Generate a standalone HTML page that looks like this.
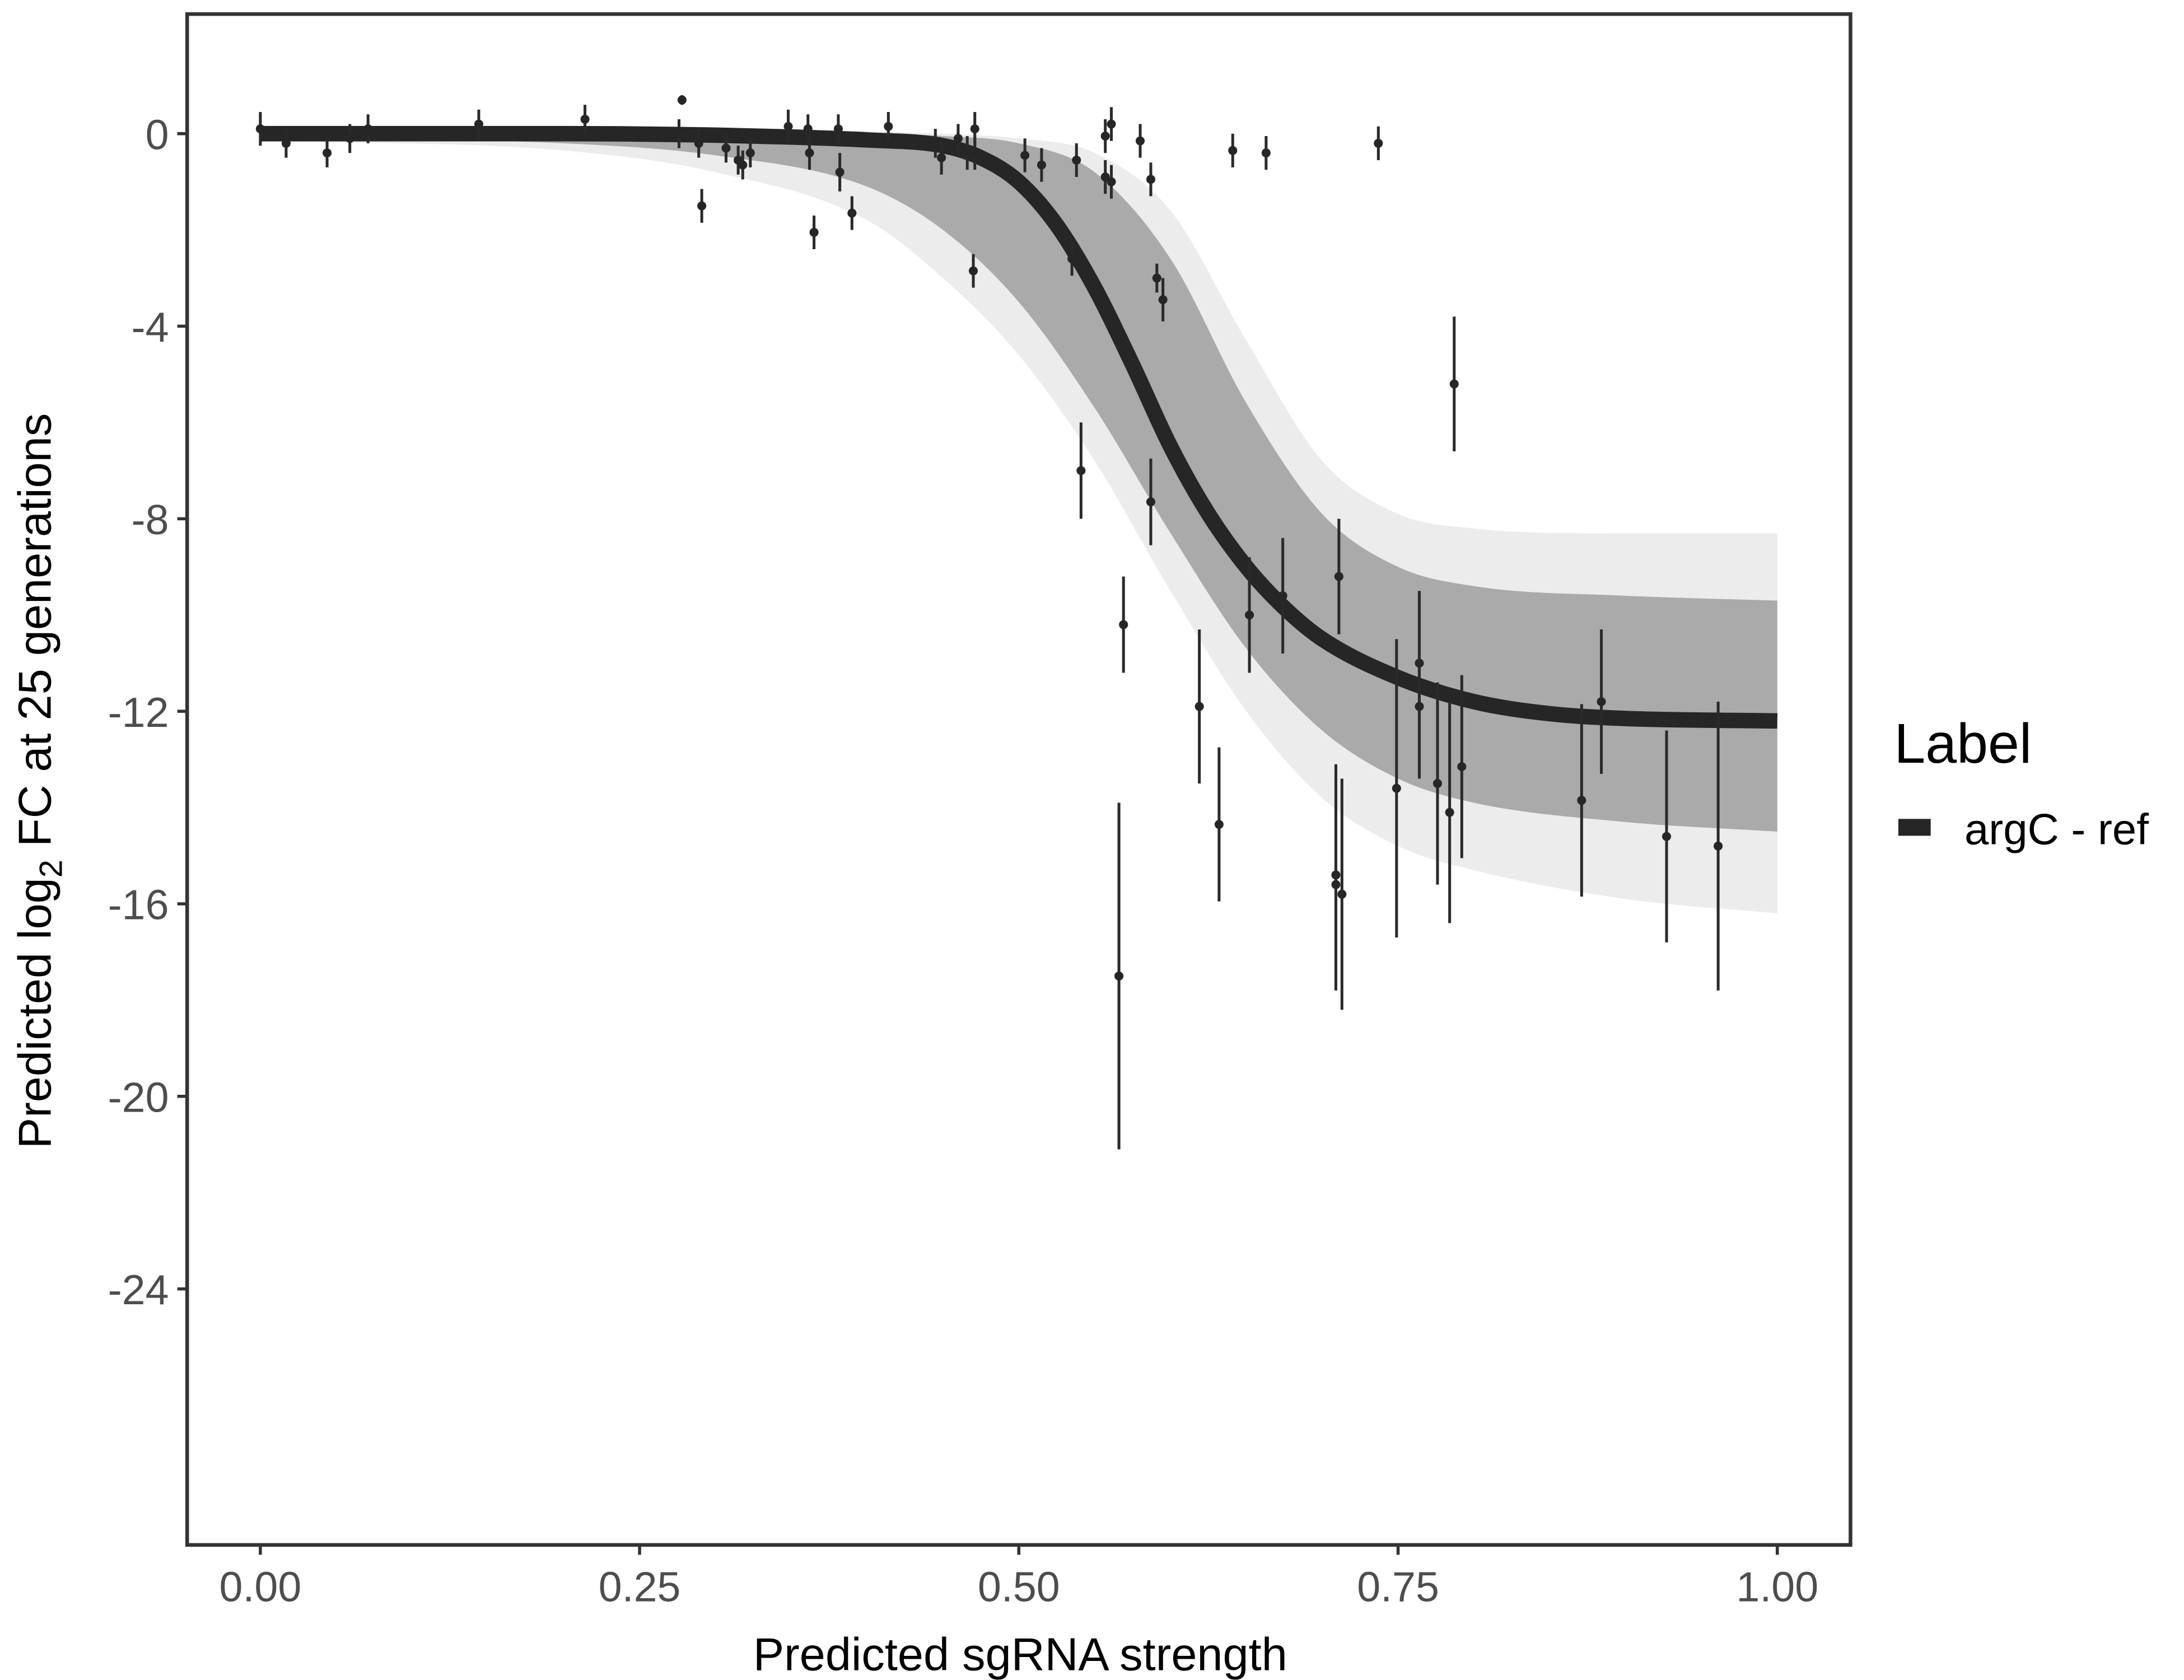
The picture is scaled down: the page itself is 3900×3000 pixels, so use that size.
<!DOCTYPE html>
<html><head><meta charset="utf-8"><style>
html,body{margin:0;padding:0;background:#fff;}
svg{display:block;}
text{font-family:"Liberation Sans",sans-serif;}
</style></head><body>
<svg id="chart" width="3900" height="3000" viewBox="0 0 1552 1194" preserveAspectRatio="none" xmlns="http://www.w3.org/2000/svg">
<rect x="0" y="0" width="1552" height="1194" fill="#fff"/>
<g id="plot"></g>
<rect x="133" y="10" width="1182" height="1088" fill="none" stroke="#333" stroke-width="2.6"/>
<g id="axes"></g>
<text x="725" y="1187" font-size="33" text-anchor="middle" fill="#000">Predicted sgRNA strength</text>
<text transform="translate(36,555) rotate(-90)" font-size="33" text-anchor="middle" fill="#000">Predicted  log<tspan font-size="23" dy="8">2</tspan><tspan dy="-8"> FC at 25 generations</tspan></text>
<g>
<text x="1346" y="542" font-size="40" fill="#000">Label</text>
<rect x="1349" y="582" width="23" height="12" fill="#262626"/>
<text x="1396" y="600" font-size="31" fill="#000">argC - ref</text>
</g>
</svg>
<script>
const xTicks=[0,0.25,0.5,0.75,1];
const xTickLabels=["0.00","0.25","0.50","0.75","1.00"];
const yTicks=[0,-4,-8,-12,-16,-20,-24];
const yTickLabels=["0","-4","-8","-12","-16","-20","-24"];
const curveX=[0,0.2,0.3,0.35,0.4,0.45,0.475,0.5,0.525,0.55,0.575,0.6,0.625,0.65,0.675,0.7,0.75,0.8,0.85,0.9,1.0];
const curveY=[0,0,-0.03,-0.07,-0.13,-0.25,-0.5,-1.0,-1.9,-3.2,-4.8,-6.5,-7.9,-9.0,-9.85,-10.5,-11.3,-11.8,-12.05,-12.15,-12.2];
const bandX=[0,0.2,0.3,0.4,0.45,0.5,0.55,0.6,0.65,0.7,0.75,0.8,0.9,1.0];
const bandUpper=[0.1,0.08,0.05,0,-0.05,-0.2,-0.8,-2.6,-5.6,-7.9,-9.0,-9.4,-9.6,-9.7];
const bandLower=[-0.1,-0.2,-0.45,-1.1,-2.0,-3.5,-5.7,-8.3,-10.7,-12.4,-13.4,-13.9,-14.3,-14.5];
const faintUpper=[0.15,0.12,0.08,0.05,0,-0.1,-0.4,-1.6,-4.3,-6.8,-7.9,-8.2,-8.3,-8.3];
const faintLower=[-0.15,-0.35,-0.8,-1.8,-3.0,-4.6,-6.8,-9.5,-12.0,-13.8,-14.8,-15.3,-15.9,-16.2];
const ptX=[0,0.017,0.044,0.059,0.071,0.144,0.214,0.278,0.276,0.289,0.291,0.307,0.315,0.318,0.323,0.348,0.361,0.362,0.365,0.381,0.382,0.39,0.414,0.445,0.449,0.46,0.466,0.471,0.471,0.47,0.504,0.515,0.535,0.538,0.541,0.557,0.557,0.561,0.561,0.566,0.569,0.58,0.587,0.587,0.591,0.595,0.619,0.632,0.641,0.652,0.663,0.674,0.711,0.709,0.709,0.713,0.737,0.749,0.764,0.764,0.776,0.784,0.787,0.792,0.871,0.884,0.927,0.961];
const ptY=[0.1,-0.2,-0.4,-0.1,0.1,0.2,0.3,0.7,0,-0.2,-1.5,-0.3,-0.55,-0.65,-0.4,0.15,0.1,-0.4,-2.05,0.1,-0.8,-1.65,0.15,-0.2,-0.5,-0.1,-0.4,0.1,-0.4,-2.85,-0.45,-0.65,-2.6,-0.55,-7.0,-0.05,-0.9,0.2,-1.0,-17.5,-10.2,-0.15,-0.95,-7.65,-3.0,-3.45,-11.9,-14.35,-0.35,-10.0,-0.4,-9.6,-9.2,-15.4,-15.6,-15.8,-0.2,-13.6,-11.0,-11.9,-13.5,-14.1,-5.2,-13.15,-13.85,-11.8,-14.6,-14.8];
const ptErr=[0.35,0.3,0.3,0.3,0.3,0.3,0.3,0.1,0.3,0.3,0.35,0.3,0.3,0.3,0.3,0.35,0.3,0.35,0.35,0.3,0.4,0.35,0.3,0.3,0.35,0.3,0.35,0.35,0.35,0.35,0.35,0.35,0.35,0.35,1.0,0.35,0.35,0.35,0.35,3.6,1.0,0.35,0.35,0.9,0.3,0.45,1.6,1.6,0.35,1.2,0.35,1.2,1.2,2.3,2.2,2.4,0.35,3.1,1.5,1.5,2.1,2.3,1.4,1.9,2.0,1.5,2.2,3.0];
function sx(v){return 185+1078*v;}
function sy(v){return 95-34.21*v;}
const NS="http://www.w3.org/2000/svg";
const plot=document.getElementById('plot');
const axes=document.getElementById('axes');
function mk(tag,attrs,parent){const e=document.createElementNS(NS,tag);for(const k in attrs)e.setAttribute(k,attrs[k]);parent.appendChild(e);return e;}
function smoothPath(xs,ys){
  const px=xs.map(sx),py=ys.map(sy);const n=px.length;
  const m=[];for(let i=0;i<n;i++){
    if(i===0)m.push((py[1]-py[0])/(px[1]-px[0]));
    else if(i===n-1)m.push((py[n-1]-py[n-2])/(px[n-1]-px[n-2]));
    else{const d0=(py[i]-py[i-1])/(px[i]-px[i-1]),d1=(py[i+1]-py[i])/(px[i+1]-px[i]);m.push(d0*d1<=0?0:(d0+d1)/2);}
  }
  let d="M"+px[0]+","+py[0];
  for(let i=0;i<n-1;i++){const h=px[i+1]-px[i];
    d+=" C"+(px[i]+h/3)+","+(py[i]+m[i]*h/3)+" "+(px[i+1]-h/3)+","+(py[i+1]-m[i+1]*h/3)+" "+px[i+1]+","+py[i+1];}
  return d;
}
function bandPath(xs,up,lo){
  const a=smoothPath(xs,up);
  const rx=xs.slice().reverse(),rl=lo.slice().reverse();
  const b=smoothPath(rx,rl).replace(/^M/,' L');
  return a+b+" Z";
}
const fb=mk('path',{d:bandPath(bandX,faintUpper,faintLower),fill:'#ececec'},plot);


const band=mk('path',{d:bandPath(bandX,bandUpper,bandLower),fill:'#aaaaaa'},plot);


const main=mk('path',{d:smoothPath(curveX,curveY),fill:'none',stroke:'#262626','stroke-width':11},plot);


for(let i=0;i<ptX.length;i++){
  const g=mk('g',{},plot);
  
  
  mk('line',{x1:sx(ptX[i]),x2:sx(ptX[i]),y1:sy(ptY[i]+ptErr[i]),y2:sy(ptY[i]-ptErr[i]),stroke:'#2a2a2a','stroke-width':2},g);
  mk('circle',{cx:sx(ptX[i]),cy:sy(ptY[i]),r:3.2,fill:'#262626'},g);
}
for(let i=0;i<xTicks.length;i++){
  const t=mk('line',{x1:sx(xTicks[i]),x2:sx(xTicks[i]),y1:1098,y2:1105,stroke:'#333','stroke-width':2.2},axes);
  
  
  const l=mk('text',{x:sx(xTicks[i]),y:1138,'font-size':30,'text-anchor':'middle',fill:'#4d4d4d'},axes);
  l.textContent=xTickLabels[i];
  
  
}
for(let i=0;i<yTicks.length;i++){
  const t=mk('line',{x1:126,x2:133,y1:sy(yTicks[i]),y2:sy(yTicks[i]),stroke:'#333','stroke-width':2.2},axes);
  
  
  const l=mk('text',{x:120,y:sy(yTicks[i])+11,'font-size':30,'text-anchor':'end',fill:'#4d4d4d'},axes);
  l.textContent=yTickLabels[i];
  
  
}
</script>
</body></html>
